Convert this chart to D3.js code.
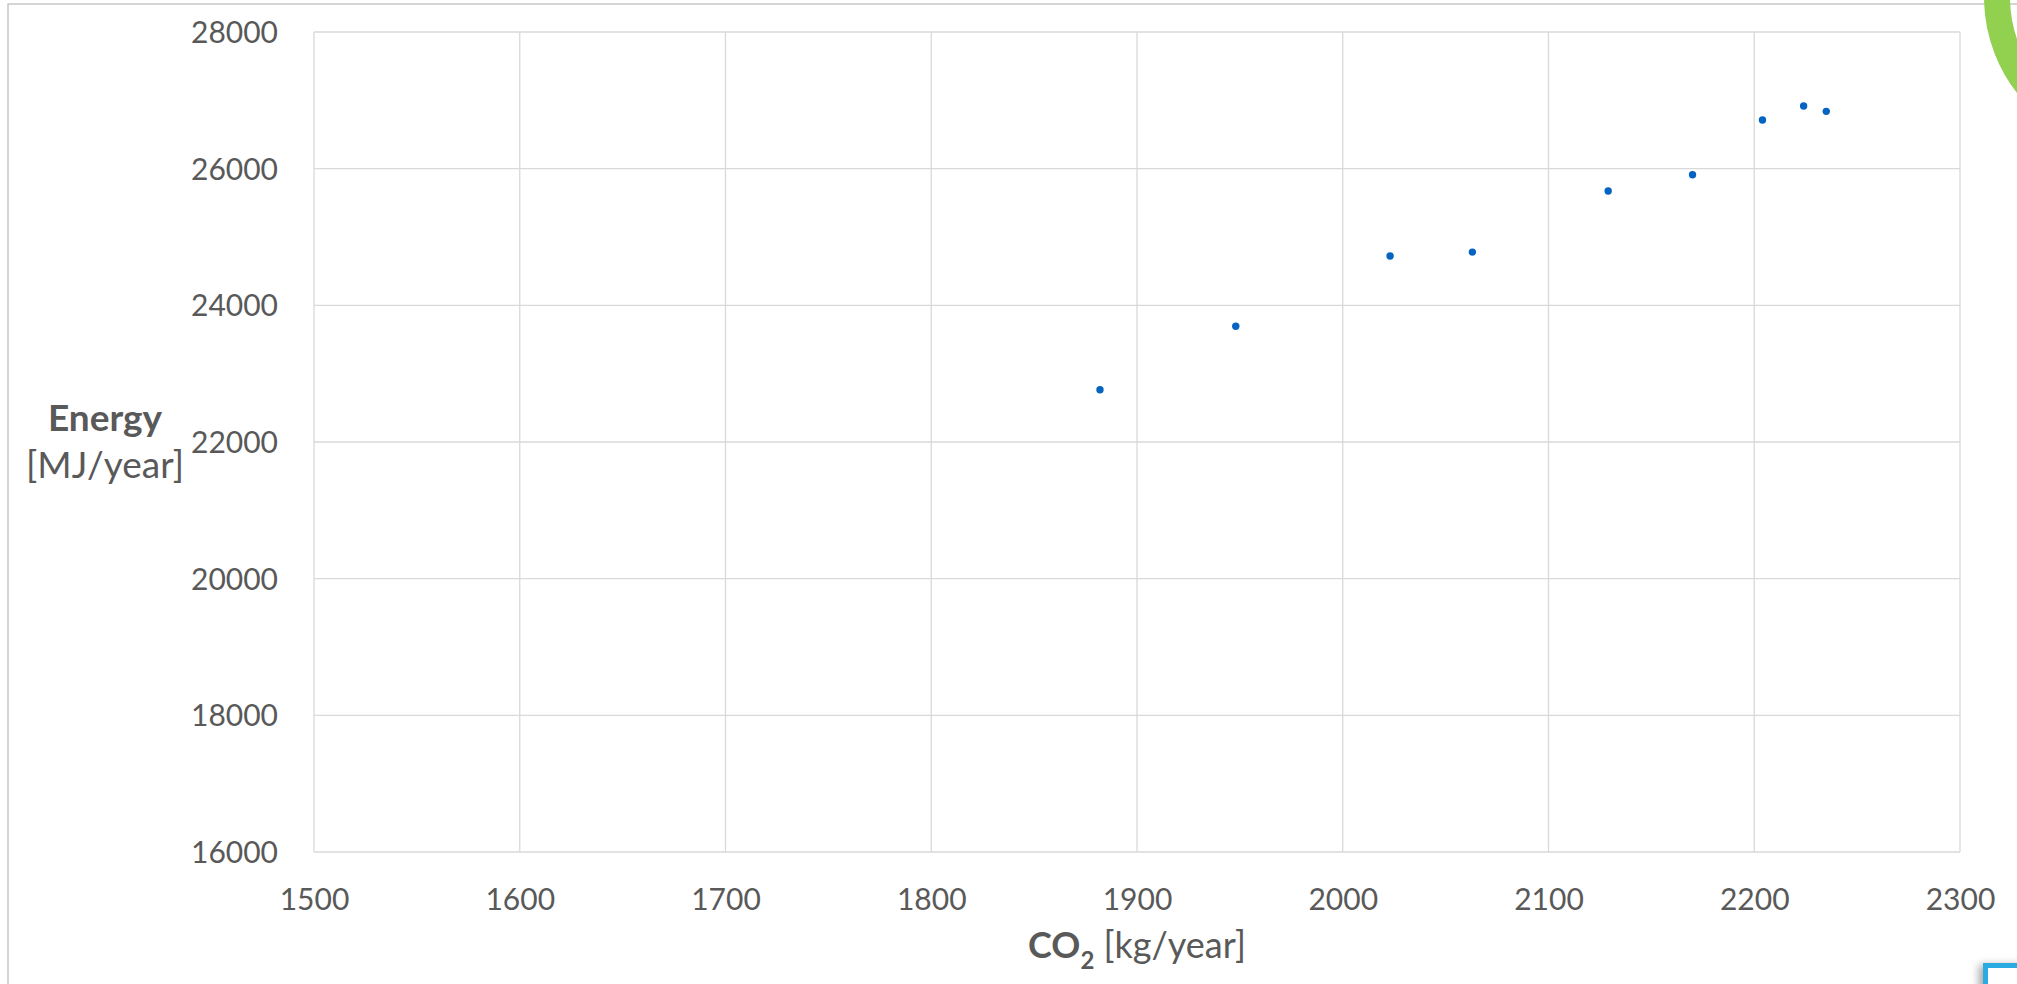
<!DOCTYPE html>
<html>
<head>
<meta charset="utf-8">
<script src="https://cdn.jsdelivr.net/npm/d3@7"></script>
<style>
  html, body { margin: 0; padding: 0; background: #ffffff; }
  svg { display: block; }
  text { font-family: Lato, "Open Sans", sans-serif; fill: #595959; }
</style>
</head>
<body>
<svg id="chart" width="2017" height="984"></svg>
<script>
// ---- data ----
const co2Values    = [1882, 1948, 2023, 2063, 2129, 2170, 2204, 2224, 2235];
const energyValues = [22765, 23693, 24722, 24779, 25673, 25912, 26712, 26917, 26839];
const xTicks = [1500, 1600, 1700, 1800, 1900, 2000, 2100, 2200, 2300];
const yTicks = [16000, 18000, 20000, 22000, 24000, 26000, 28000];
const yTitleBold = "Energy";
const yTitleUnit = "[MJ/year]";
const xTitleBold = "CO";
const xTitleSub = "2";
const xTitleUnit = " [kg/year]";

const W = 2017, H = 984;
const margin = { left: 314, top: 32, right: 2017 - 1960, bottom: 984 - 852 };
const svg = d3.select("#chart");

// slide frame
svg.append("rect")
  .attr("x", 8).attr("y", 4)
  .attr("width", 2100).attr("height", 1100)
  .attr("fill", "none").attr("stroke", "#bfbfbf").attr("stroke-width", 1.3);

const x = d3.scaleLinear().domain([1500, 2300]).range([margin.left, W - margin.right]);
const y = d3.scaleLinear().domain([16000, 28000]).range([H - margin.bottom, margin.top]);

// gridlines
const grid = svg.append("g");
grid.selectAll("line.v").data(xTicks).enter().append("line")
  .attr("x1", d => x(d)).attr("x2", d => x(d))
  .attr("y1", y(16000)).attr("y2", y(28000))
  .attr("stroke", "#d9d9d9").attr("stroke-width", 1.3);
grid.selectAll("line.h").data(yTicks).enter().append("line")
  .attr("x1", x(1500)).attr("x2", x(2300))
  .attr("y1", d => y(d)).attr("y2", d => y(d))
  .attr("stroke", "#d9d9d9").attr("stroke-width", 1.3);

// axes (labels only)
const xAxis = svg.append("g")
  .attr("transform", `translate(0,${y(16000)})`)
  .call(d3.axisBottom(x).tickValues(xTicks).tickFormat(d3.format("d")).tickSize(0).tickPadding(0));
xAxis.select(".domain").remove();
xAxis.selectAll("text")
  .attr("y", 58).attr("dy", null)
  .style("font-size", "30px").style("font-family", "Lato, 'Open Sans', sans-serif").attr("fill", "#595959");

const yAxis = svg.append("g")
  .attr("transform", `translate(${x(1500)},0)`)
  .call(d3.axisLeft(y).tickValues(yTicks).tickFormat(d3.format("d")).tickSize(0).tickPadding(0));
yAxis.select(".domain").remove();
yAxis.selectAll("text")
  .attr("x", -36).attr("dy", "0.35em")
  .style("font-size", "30px").style("font-family", "Lato, 'Open Sans', sans-serif").attr("fill", "#595959");

// points
const pts = co2Values.map((c, i) => ({ c, e: energyValues[i] }));
svg.append("g").selectAll("circle").data(pts).enter().append("circle")
  .attr("cx", d => x(d.c)).attr("cy", d => y(d.e))
  .attr("r", 3.7).attr("fill", "#0563c1");

// y title
svg.append("text").attr("x", 105).attr("y", 431).attr("text-anchor", "middle")
  .style("font-size", "37px").style("font-weight", "bold").text(yTitleBold);
svg.append("text").attr("x", 105).attr("y", 478).attr("text-anchor", "middle")
  .style("font-size", "37px").text(yTitleUnit);

// x title
const xt = svg.append("text").attr("x", (x(1500) + x(2300)) / 2).attr("y", 958)
  .attr("text-anchor", "middle").style("font-size", "36px");
xt.append("tspan").style("font-weight", "bold").text(xTitleBold);
xt.append("tspan").style("font-weight", "bold").style("font-size", "24px").attr("dy", 11).text(xTitleSub);
xt.append("tspan").attr("dy", -11).text(xTitleUnit);

// decorative green arc (top right)
svg.append("circle").attr("cx", 2140).attr("cy", -3).attr("r", 143)
  .attr("fill", "none").attr("stroke", "#92d050").attr("stroke-width", 26);

// decorative blue box (bottom right) with shadow
const defs = svg.append("defs");
const f = defs.append("filter").attr("id", "sh").attr("x", "-50%").attr("y", "-50%").attr("width", "200%").attr("height", "200%");
f.append("feDropShadow").attr("dx", -4).attr("dy", 2).attr("stdDeviation", 4).attr("flood-color", "#000").attr("flood-opacity", 0.35);
svg.append("rect").attr("x", 1985.5).attr("y", 965.5).attr("width", 200).attr("height", 200)
  .attr("fill", "#ffffff").attr("stroke", "#29abe2").attr("stroke-width", 5).attr("filter", "url(#sh)");
</script>
</body>
</html>
